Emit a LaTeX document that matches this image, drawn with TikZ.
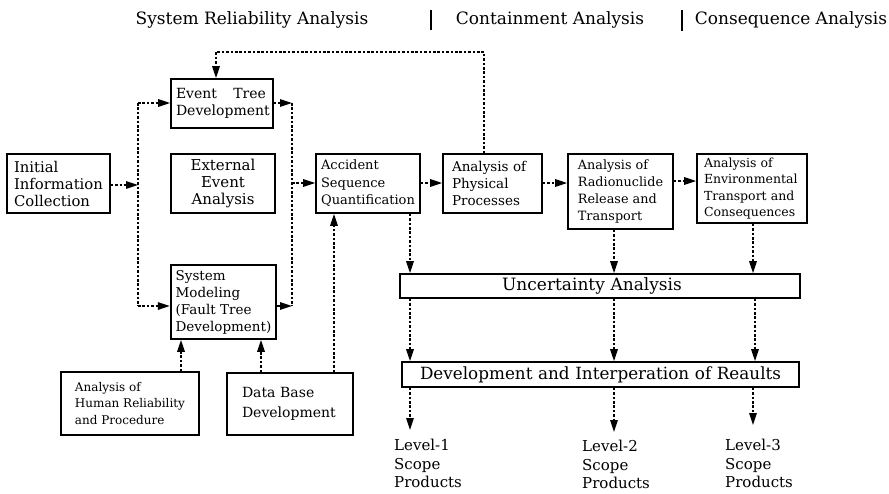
\documentclass[tikz,border=0pt]{standalone}
\usepackage{fontspec}
\setmainfont{DejaVu Serif}
\usetikzlibrary{arrows.meta}
\tikzset{
  box/.style={draw, line width=1.7pt, align=left, inner xsep=5pt, inner ysep=0pt},
  fs/.style 2 args={font=\fontsize{#1}{#2}\selectfont},
  flow/.style={line width=1.6pt, dash pattern=on 2.6pt off 1.8pt},
  arr/.style={flow, -{Triangle[length=12pt,width=7.5pt]}},
  head/.style={inner sep=0pt, fs={17}{20}},
  lvl/.style={inner sep=0pt, align=left, anchor=north west, fs={15}{18.5}},
}
\begin{document}
\begin{tikzpicture}[x=1pt,y=-1pt]
\useasboundingbox (0,0) rectangle (889,493);

% column headings
\node[head] (h1) at (252,20) {System Reliability Analysis};
\node[head] (h2) at (550,20) {Containment Analysis};
\node[head] (h3) at (791,20) {Consequence Analysis};
\draw[line width=1.5pt] (431,10) -- (431,30);
\draw[line width=1.5pt] (682,10) -- (682,31);

% boxes
\node[box, fs={14.8}{17}, minimum width=103pt, minimum height=59pt] (init) at (58.5,183.5) {Initial\\Information\\Collection};
\node[box, fs={14}{17}, text width=92pt, minimum height=49pt] (etd) at (222,103.5) {\hbox to 90pt{Event\hfil Tree}\\Development};
\node[box, fs={15}{17}, align=center, minimum width=104pt, minimum height=59pt] (ext) at (223,183.5) {External\\Event\\Analysis};
\node[box, fs={13}{17.5}, minimum width=102pt, minimum height=59pt] (asq) at (368,183.5) {Accident\\Sequence\\Quantification};
\node[box, fs={13.5}{17}, inner xsep=9pt, text width=81pt, minimum height=59pt] (app) at (492.5,183.5) {Analysis of\\Physical\\Processes};
\node[box, fs={12.8}{17}, minimum width=105pt, minimum height=75pt] (arr) at (620.5,191.5) {Analysis of\\Radionuclide\\Release and\\Transport};
\node[box, fs={12.5}{16.5}, inner xsep=7pt, text width=96pt, minimum height=69pt] (aet) at (752,188.5) {Analysis of\\Environmental\\Transport and\\Consequences};
\node[box, fs={13.5}{17}, minimum width=103pt, minimum height=74pt] (sm) at (223.5,302) {System\\Modeling\\(Fault Tree\\Development)};
\node[box, fs={12}{16.5}, minimum width=138pt, minimum height=63pt] (hr) at (130,403.5) {Analysis of\\Human Reliability\\and Procedure};
\node[box, fs={14}{20}, inner xsep=15pt, text width=96pt, minimum height=62pt] (dbd) at (290,404) {Data Base\\Development};
\node[box, fs={17}{19}, align=center, text width=390pt, minimum height=24pt] (ua) at (600,286) {\hbox to 390pt{\hfil Uncertainty Analysis\hfil\hskip16pt}};
\node[box, fs={16.8}{19}, align=center, text width=387pt, minimum height=25pt] (dir) at (600.5,374.5) {Development and Interperation of Reaults};

% products
\node[lvl] (lv1) at (394,439) {Level-1\\Scope\\Products};
\node[lvl] (lv2) at (582,440) {Level-2\\Scope\\Products};
\node[lvl] (lv3) at (725,439) {Level-3\\Scope\\Products};

% left distribution line
\coordinate (lbT) at (138,103);
\coordinate (lbM) at (138,185);
\coordinate (lbB) at (138,306);
\draw[arr] (init.east |- lbM) -- (lbM);
\draw[flow] (lbT) -- (lbB);
\draw[arr] (lbT) -- (lbT -| etd.west);
\draw[arr] (lbB) -- (lbB -| sm.west);

% right collecting line
\coordinate (rbT) at (292,103);
\coordinate (rbM) at (292,183);
\coordinate (rbB) at (292,306);
\draw[arr] (rbT -| etd.east) -- (rbT);
\draw[arr] (rbB -| sm.east) -- (rbB);
\draw[flow] (rbT) -- (rbB);
\draw[arr] (rbM) -- (rbM -| asq.west);

% feedback to event trees
\coordinate (fbR) at (484,52);
\coordinate (fbL) at (216,52);
\draw[arr] (app.north -| fbR) -- (fbR) -- (fbL) -- (fbL |- etd.north);

% main chain
\coordinate (row) at (0,183);
\coordinate (row2) at (0,181);
\draw[arr] (asq.east |- row) -- (app.west |- row);
\draw[arr] (app.east |- row) -- (arr.west |- row);
\draw[arr] (arr.east |- row2) -- (aet.west |- row2);

% supporting inputs
\coordinate (c1) at (181,0);
\coordinate (c2) at (261,0);
\coordinate (cdb) at (334,0);
\draw[arr] (hr.north -| c1) -- (sm.south -| c1);
\draw[arr] (dbd.north -| c2) -- (sm.south -| c2);
\draw[arr] (dbd.north -| cdb) -- (asq.south -| cdb);

% towards results
\coordinate (c3) at (410,0);
\coordinate (c4) at (614,0);
\coordinate (c5) at (753,0);
\coordinate (c5b) at (755,0);
\draw[arr] (asq.south -| c3) -- (ua.north -| c3);
\draw[arr] (ua.south -| c3) -- (dir.north -| c3);
\draw[arr, shorten >=9pt] (dir.south -| c3) -- (lv1.north -| c3);
\draw[arr] (arr.south -| c4) -- (ua.north -| c4);
\draw[arr] (ua.south -| c4) -- (dir.north -| c4);
\draw[arr, shorten >=8pt] (dir.south -| c4) -- (lv2.north -| c4);
\draw[arr] (aet.south -| c5) -- (ua.north -| c5);
\draw[arr] (ua.south -| c5b) -- (dir.north -| c5b);
\draw[arr, shorten >=14pt] (dir.south -| c5) -- (lv3.north -| c5);
\end{tikzpicture}
\end{document}
